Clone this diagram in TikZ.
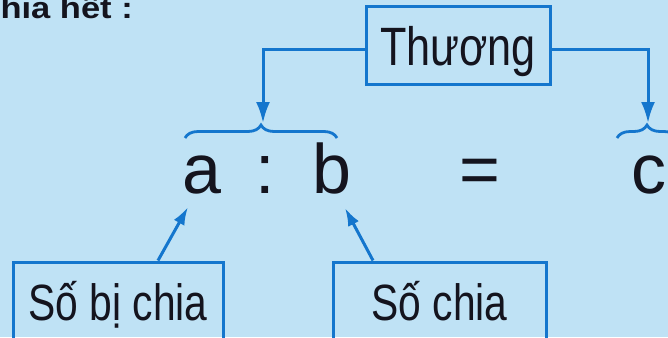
\documentclass[tikz,border=0pt]{standalone}
\usepackage{fontspec}
\setmainfont{Liberation Sans}
\newfontfamily\narrowsans[FakeStretch=0.8]{Liberation Sans}
\newfontfamily\widebold[FakeStretch=1.15]{Liberation Sans Bold}
\usetikzlibrary{arrows.meta,decorations.pathreplacing}
\definecolor{bgblue}{RGB}{191,226,245}
\definecolor{lineblue}{RGB}{20,118,205}
\definecolor{ink}{RGB}{20,20,30}
\begin{document}
\begin{tikzpicture}[x=1pt,y=-1pt,
  labelbox/.style={draw=lineblue,line width=3pt,inner sep=0pt,text=ink,
    font=\narrowsans\fontsize{51}{58}\selectfont},
  conn/.style={draw=lineblue,line width=3pt},
  bigtip/.style={-{Latex[length=21pt,width=14pt]}},
  smalltip/.style={-{Latex[length=18pt,width=12pt]}},
  sym/.style={inner sep=0pt,anchor=base,text=ink,font=\fontsize{70}{80}\selectfont},
  bracestyle/.style={draw=lineblue,line width=2.8pt,decorate,
    decoration={brace,amplitude=13pt}}]
\useasboundingbox[fill=bgblue] (0,0) rectangle (668,337);

% heading fragment
\node[inner sep=0pt,anchor=base east,text=ink,font=\widebold\fontsize{30}{34}\selectfont]
  (head) at (133,19) {chia hết :};

% Thuong box
\node[labelbox,minimum width=184pt,minimum height=77pt,text height=39pt,text depth=0pt,
  font=\narrowsans\fontsize{54}{60}\selectfont]
  (thuong) at (458,45.5) {Thương};

% symbols
\node[sym] (a) at (201.5,193) {a};
\node[sym] (colon) at (265,193) {:};
\node[sym] (b) at (331.5,193) {b};
\node[sym] (eq) at (480,193) {=};
\node[sym] (c) at (648.5,193) {c};

% braces
\draw[bracestyle] (185,138) -- (337,138);
\draw[bracestyle] (617,138) -- (677,138);

% top arrows
\coordinate (tipL) at (263,123);
\coordinate (tipR) at (648,123);
\draw[conn,bigtip] ([yshift=-4.5pt]thuong.west) -| (tipL);
\draw[conn,bigtip] ([yshift=-4.5pt]thuong.east) -| (tipR);

% bottom boxes
\node[labelbox,minimum width=210pt,minimum height=98pt,text height=18pt,text depth=0pt]
  (sbc) at (118,311) {Số bị chia};
\node[labelbox,minimum width=213pt,minimum height=98pt,text height=18pt,text depth=0pt]
  (sc) at (439.5,311) {Số chia};

% bottom arrows
\coordinate (tipA) at (188,207);
\coordinate (tipB) at (345,208);
\draw[conn,smalltip] ([xshift=40pt]sbc.north) -- (tipA);
\draw[conn,smalltip] ([xshift=-66.5pt]sc.north) -- (tipB);
\end{tikzpicture}
\end{document}
